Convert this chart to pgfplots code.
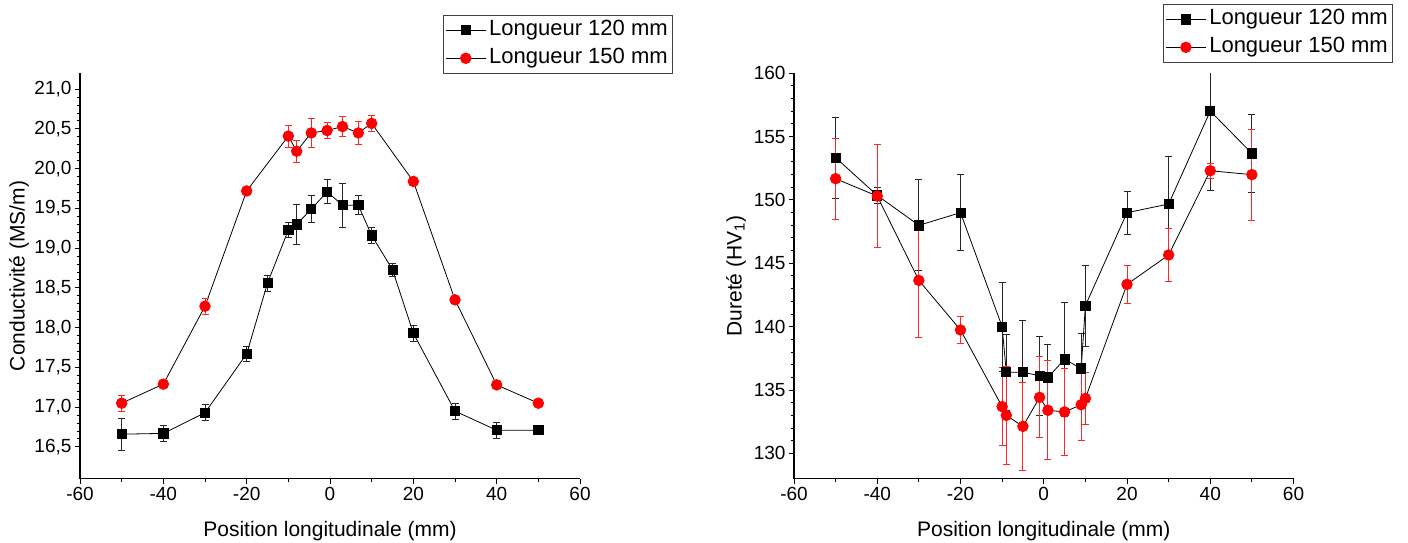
\documentclass[border=0pt]{standalone}
\usepackage{fontspec}
\setmainfont{Liberation Sans}
\usepackage{pgfplots}
\usepackage{pgfplotstable}
\pgfplotsset{compat=1.18}

\pgfplotstableread{
x y e
-50 16.66 0.20
-40 16.67 0.10
-30 16.93 0.10
-20 17.67 0.10
-15 18.56 0.10
-10 19.23 0.09
-8 19.30 0.25
-4.5 19.49 0.17
-0.7 19.71 0.15
3 19.54 0.28
6.8 19.54 0.12
10 19.16 0.10
15 18.73 0.08
20 17.93 0.10
30 16.95 0.10
40 16.71 0.10
50 16.71 0.0
}\condA

\pgfplotstableread{
x y e
-50 17.05 0.10
-40 17.29 0.02
-30 18.27 0.10
-20 19.72 0.03
-10 20.41 0.14
-8 20.22 0.14
-4.5 20.45 0.18
-0.7 20.48 0.10
3 20.53 0.13
6.8 20.45 0.15
10 20.57 0.10
20 19.84 0.02
30 18.35 0.0
40 17.28 0.0
50 17.05 0.0
}\condB

\pgfplotstableread{
x y e
-50 153.34 3.2
-40 150.36 0.6
-30 148.0 3.6
-20 149.0 3.0
-10 140.0 3.5
-9 136.4 3.0
-5 136.4 4.1
-1 136.13 3.1
1 136.0 2.56
5 137.42 4.5
9 136.7 2.8
10 141.66 3.2
20 149.0 1.7
30 149.68 3.76
40 157.02 6.26
50 153.68 3.05
}\durA

\pgfplotstableread{
x y e
-50 151.68 3.2
-40 150.31 4.05
-30 143.65 4.5
-20 139.74 1.06
-10 133.69 3.1
-9 133.0 3.84
-5 132.13 3.5
-1 134.42 3.2
1 133.4 3.9
5 133.27 3.4
9 133.84 2.86
10 134.34 2.05
20 143.34 1.5
30 145.66 2.07
40 152.31 0.6
50 152.0 3.6
}\durB

\pgfplotsset{
  mystyle/.style={
    scale only axis,
    height=405.4pt,
    axis x line*=bottom, axis y line*=left,
    axis line style={line width=1.2pt, black},
    tick align=outside,
    major tick length=5pt, minor tick length=3pt,
    every tick/.style={black, line width=1pt},
    xmin=-60, xmax=60, xtick={-60,-40,...,60}, minor x tick num=1,
    tick label style={font=\fontsize{19}{22}\selectfont},
    label style={font=\fontsize{21}{25}\selectfont},
    /pgf/number format/assume math mode=true,
    xlabel={Position longitudinale (mm)},
    xlabel style={at={(axis description cs:0.5,-0.128)}, anchor=center},
    legend cell align=left,
    legend style={draw=black!75, line width=0.7pt, font=\fontsize{22}{26}\selectfont,
      anchor=north west, inner xsep=2pt, inner ysep=1pt, row sep=0pt,
      nodes={text height=16pt, text depth=6pt, inner sep=3pt}},
    legend image code/.code={
      \draw[mark repeat=2,mark phase=2,#1] plot coordinates {(0pt,0pt) (20pt,0pt) (40pt,0pt)};
    },
  },
  sq/.style={black, line width=0.8pt, mark=square*, mark size=4.6pt, mark options={solid, fill=black},
    error bars/.cd, y dir=both, y explicit,
    error bar style={black!85, line width=0.9pt},
    error mark options={rotate=90, black!85, mark size=3.5pt, line width=0.9pt}},
  ci/.style={black, line width=0.8pt, mark=*, mark size=5.3pt, mark options={solid, red, fill=red},
    error bars/.cd, y dir=both, y explicit,
    error bar style={red!85, line width=0.9pt},
    error mark options={rotate=90, red!85, mark size=3.5pt, line width=0.9pt}},
}

\begin{document}
\begin{tikzpicture}
\path[use as bounding box] (0pt,0pt) rectangle (1408pt,543pt);
\begin{axis}[mystyle,
  at={(80pt,64.3pt)}, anchor=south west, width=500pt,
  ymin=16.1, ymax=21.2,
  ytick={16.5,17.0,17.5,18.0,18.5,19.0,19.5,20.0,20.5,21.0},
  minor y tick num=4,
  yticklabel style={/pgf/number format/.cd, fixed, fixed zerofill, precision=1, use comma},
  ylabel={Conductivité (MS/m)},
  ylabel style={at={(axis description cs:-0.122,0.5)}, anchor=center},
  legend style={at={(0.726,1.144)}},
]
\addplot[sq] table[x=x, y=y, y error=e] {\condA};
\addlegendentry{Longueur 120 mm}
\addplot[ci] table[x=x, y=y, y error=e] {\condB};
\addlegendentry{Longueur 150 mm}
\end{axis}

\begin{axis}[mystyle,
  at={(794pt,64.3pt)}, anchor=south west, width=499.5pt,
  ymin=128, ymax=160,
  ytick={130,135,...,160},
  minor y tick num=4,
  ylabel={Dureté (HV\textsubscript{1})},
  ylabel style={at={(axis description cs:-0.116,0.5)}, anchor=center},
  legend style={at={(0.739,1.171)}},
]
\addplot[sq] table[x=x, y=y, y error=e] {\durA};
\addlegendentry{Longueur 120 mm}
\addplot[ci] table[x=x, y=y, y error=e] {\durB};
\addlegendentry{Longueur 150 mm}
\end{axis}
\end{tikzpicture}
\end{document}
